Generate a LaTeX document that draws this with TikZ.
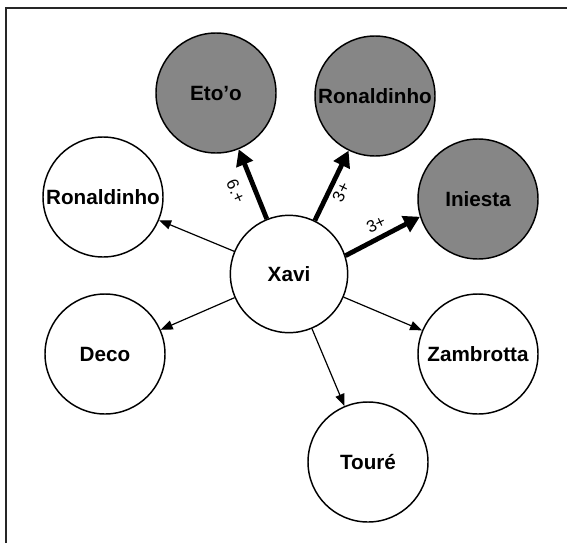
\documentclass[tikz,border=0pt]{standalone}
\usepackage{fontspec}
\setmainfont{Liberation Sans}
\usetikzlibrary{arrows.meta}
\definecolor{passgray}{RGB}{134,134,134}
\tikzset{
  player/.style={circle, draw=black, line width=1.1pt, minimum size=90pt, inner sep=0pt,
                 font=\fontsize{15.5pt}{17pt}\selectfont\bfseries, fill=white},
  top/.style={player, fill=passgray},
  pass/.style={line width=0.9pt, -{Triangle[length=9pt,width=7pt]}},
  keypass/.style={line width=3.6pt, -{Triangle[length=12pt,width=13pt]}},
  count/.style={font=\fontsize{12.5pt}{14pt}\selectfont, inner sep=0pt},
  frame/.style={line width=1.6pt, draw=black!85}
}
\begin{document}
\begin{tikzpicture}[x=0.75pt, y=-0.75pt]
  \useasboundingbox (0,0) rectangle (567,543);
  % open frame along the top and left
  \draw[frame] (6,543) -- (6,8) -- (567,8);

  % players
  \node[player, minimum size=88pt] (xavi) at (289,274) {Xavi};
  \node[top] (etoo) at (216,93) {Eto’o};
  \node[top] (ron1) at (375,96) {Ronaldinho};
  \node[top] (ini) at (478,199) {Iniesta};
  \node[player] (ron2) at (103,197) {Ronaldinho};
  \node[player] (deco) at (105,354) {Deco};
  \node[player] (zamb) at (478,354) {Zambrotta};
  \node[player] (toure) at (368,462) {Touré};

  % ordinary passes
  \draw[pass] (xavi) -- (ron2);
  \draw[pass] (xavi) -- (deco);
  \draw[pass] (xavi) -- (zamb);
  \draw[pass] (xavi) -- (toure);

  % frequent passes
  \draw[keypass] (xavi) -- (etoo);
  \draw[keypass] (xavi) -- (ron1);
  \draw[keypass] (xavi.18) -- (ini.197);

  % pass counts
  \node[count, rotate=-66] (c1) at (236,191) {6.+};
  \node[count, rotate=64] (c2) at (341,192) {3+};
  \node[count, rotate=25] (c3) at (376,224) {3+};
\end{tikzpicture}
\end{document}
